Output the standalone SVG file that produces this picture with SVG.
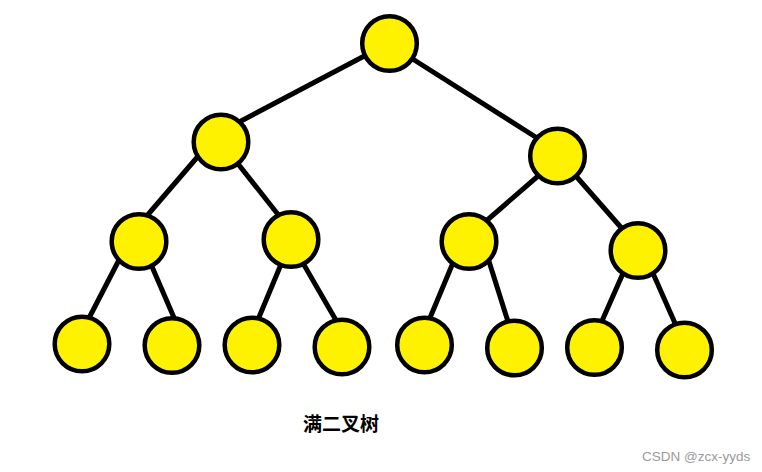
<svg xmlns="http://www.w3.org/2000/svg" width="762" height="472" viewBox="0 0 762 472">
<style>
.e{stroke:#000;stroke-width:5;stroke-linecap:butt;fill:none}
.n{fill:#fff200;stroke:#000;stroke-width:4.5}
.t{font-family:"Noto Sans CJK SC","Noto Sans CJK JP",sans-serif;font-weight:bold;font-size:19px;fill:#000}
.w{font-family:"Liberation Sans",Arial,sans-serif;font-size:13.5px;fill:#9a9a9a}
</style>
<rect width="762" height="472" fill="#fff"/>
<g id="edges">
<line class="e" x1="389" y1="43" x2="224" y2="130"/>
<line class="e" x1="389" y1="44" x2="556" y2="150"/>
<line class="e" x1="200" y1="154" x2="145" y2="218"/>
<line class="e" x1="235" y1="160" x2="280" y2="217"/>
<line class="e" x1="120" y1="258" x2="88" y2="320"/>
<line class="e" x1="150" y1="262" x2="175" y2="320"/>
<line class="e" x1="282" y1="262" x2="257" y2="322"/>
<line class="e" x1="300" y1="258" x2="337" y2="322"/>
<line class="e" x1="545" y1="170" x2="485" y2="222"/>
<line class="e" x1="568" y1="167" x2="625" y2="232"/>
<line class="e" x1="455" y1="258" x2="427" y2="325"/>
<line class="e" x1="487" y1="255" x2="510" y2="328"/>
<line class="e" x1="628" y1="262" x2="598" y2="330"/>
<line class="e" x1="648" y1="262" x2="678" y2="330"/>
</g>
<g id="n0"><circle class="n" cx="389.5" cy="43.5" r="27.3"/></g>
<g id="n1"><circle class="n" cx="221" cy="142" r="27.3"/></g>
<g id="n2"><circle class="n" cx="557.5" cy="156" r="27.3"/></g>
<g id="n3"><circle class="n" cx="139" cy="241.5" r="27.3"/></g>
<g id="n4"><circle class="n" cx="291" cy="239.5" r="27.3"/></g>
<g id="n5"><circle class="n" cx="469" cy="241.5" r="27.3"/></g>
<g id="n6"><circle class="n" cx="638" cy="250.5" r="27.3"/></g>
<g id="n7"><circle class="n" cx="82" cy="344" r="27.3"/></g>
<g id="n8"><circle class="n" cx="172" cy="345.5" r="27.3"/></g>
<g id="n9"><circle class="n" cx="252" cy="345" r="27.3"/></g>
<g id="n10"><circle class="n" cx="342" cy="347" r="27.3"/></g>
<g id="n11"><circle class="n" cx="424.5" cy="345" r="27.3"/></g>
<g id="n12"><circle class="n" cx="514.5" cy="348" r="27.3"/></g>
<g id="n13"><circle class="n" cx="594.5" cy="347.5" r="27.3"/></g>
<g id="n14"><circle class="n" cx="684.5" cy="350" r="27.3"/></g>
<text class="t" x="303" y="431">满二叉树</text>
<text class="w" x="642" y="461">CSDN @zcx-yyds</text>
</svg>
